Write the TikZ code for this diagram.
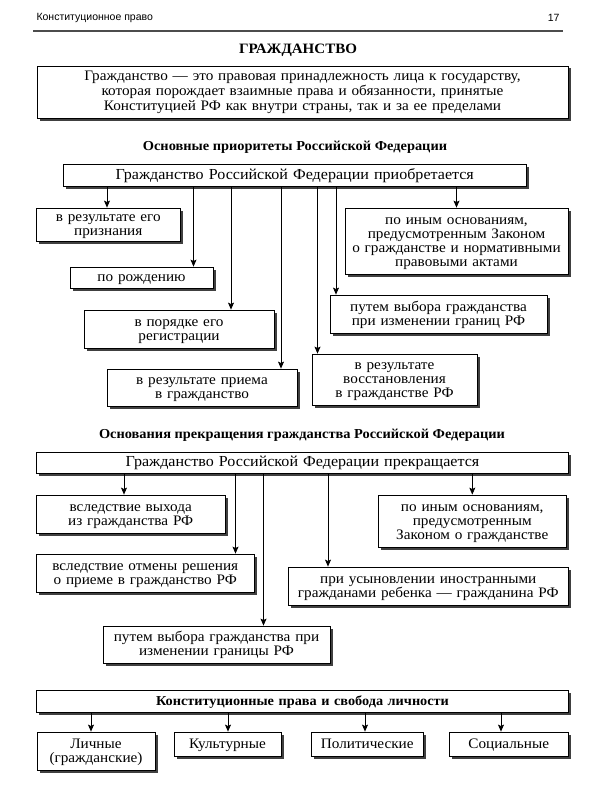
\documentclass[tikz,border=0pt]{standalone}
\usepackage{fontspec}
\setmainfont{Liberation Serif}[FakeStretch=1.05]
\setsansfont{Liberation Sans}
\usetikzlibrary{arrows.meta, shadows}

\begin{document}
\begin{tikzpicture}[x=1pt, y=-1pt,
  box/.style={draw, fill=white, line width=0.8pt, inner sep=0pt, align=center,
    font=\fontsize{14.5}{14}\selectfont,
    execute at begin node={\noindent\rule{0pt}{12pt}}, execute at end node={\rule[-4pt]{0pt}{4pt}},
    drop shadow={shadow xshift=2.5pt, shadow yshift=-2.5pt, fill=black!75, opacity=1}},
  headbox/.style={box, font=\fontsize{15.3}{16}\selectfont},
  size/.style 2 args={minimum width=#1pt, minimum height=#2pt, text width=#1pt},
  title/.style={font=\bfseries\fontsize{13.7}{15}\selectfont},
  edge/.style={-{Stealth[length=7pt, width=6pt, inset=1.5pt]}, line width=0.7pt}
]
\useasboundingbox (0,0) rectangle (600,800);

% page header
\node[anchor=west, font=\sffamily\fontsize{10.5}{12}\selectfont] (book) at (33,18) {Конституционное право};
\node[anchor=east, font=\sffamily\fontsize{10.5}{12}\selectfont] (page) at (563,18) {17};
\draw[line width=1.5pt, black!70] (book.west |- 0,31) -- (page.east |- 0,31);

\node[font=\bfseries\fontsize{14.3}{17}\selectfont] (head) at (298,50) {ГРАЖДАНСТВО};
\node[box, size={531}{52}, font=\fontsize{14.5}{15}\selectfont] (def) at (302.5,92) {Гражданство — это правовая принадлежность лица к государству,\\
  которая порождает взаимные права и обязанности, принятые\\
  Конституцией РФ как внутри страны, так и за ее пределами};

% acquisition
\node[title] (prio) at (295,147) {Основные приоритеты Российской Федерации};
\node[headbox, size={462.5}{22}] (acq) at (294.75,175) {Гражданство Российской Федерации приобретается};
\node[box, size={143.5}{33}] (recog) at (108.25,224.5) {в результате его\\признания};
\node[box, size={143}{21}] (born) at (141.5,277.5) {по рождению};
\node[box, size={190}{38}] (regist) at (179,329) {в порядке его\\регистрации};
\node[box, size={190}{37}] (admit) at (202,387.5) {в результате приема\\в гражданство};
\node[box, size={165}{51}] (restore) at (394.5,379.5) {в результате\\восстановления\\в гражданстве РФ};
\node[box, size={217}{38}] (choose) at (438.5,314) {путем выбора гражданства\\при изменении границ РФ};
\node[box, size={223}{66}] (other) at (456.5,241) {по иным основаниям,\\предусмотренным Законом\\о гражданстве и нормативными\\правовыми актами};

\foreach \x/\t in {107/recog, 193.5/born, 231/regist, 281/admit, 317.5/restore, 336/choose, 456.5/other}
  \draw[edge] (acq.south -| \x,0) -- (\t.north -| \x,0);

% termination
\node[title] (stop) at (302,435) {Основания прекращения гражданства Российской Федерации};
\node[headbox, size={532}{21}] (term) at (302.5,462.5) {Гражданство Российской Федерации прекращается};
\node[box, size={188.5}{38}] (leave) at (130.75,514) {вследствие выхода\\из гражданства РФ};
\node[box, size={217.5}{38}] (cancel) at (145.25,573) {вследствие отмены решения\\о приеме в гражданство РФ};
\node[box, size={280.5}{38}] (adopt) at (428.25,586) {при усыновлении иностранными\\гражданами ребенка — гражданина РФ};
\node[box, size={188.5}{52}] (otherT) at (472.25,521) {по иным основаниям,\\предусмотренным\\Законом о гражданстве};
\node[box, size={227}{37}] (border) at (216.5,644.5) {путем выбора гражданства при\\изменении границы РФ};

\foreach \x/\t in {124/leave, 235.5/cancel, 263.5/border, 328/adopt, 472.3/otherT}
  \draw[edge] (term.south -| \x,0) -- (\t.north -| \x,0);

% rights
\node[box, size={532}{22}, font=\bfseries\fontsize{13.6}{15}\selectfont] (rights) at (302.5,701) {Конституционные права и свобода личности};
\node[box, size={118}{38}] (personal) at (96,751) {Личные\\(гражданские)};
\node[box, size={107}{24}] (cult) at (227.5,744) {Культурные};
\node[box, size={111.5}{24}] (polit) at (367.25,744) {Политические};
\node[box, size={119.5}{24}] (social) at (508.75,744) {Социальные};

\foreach \x/\t in {91/personal, 228/cult, 365/polit, 501/social}
  \draw[edge] (rights.south -| \x,0) -- (\t.north -| \x,0);
\end{tikzpicture}
\end{document}
